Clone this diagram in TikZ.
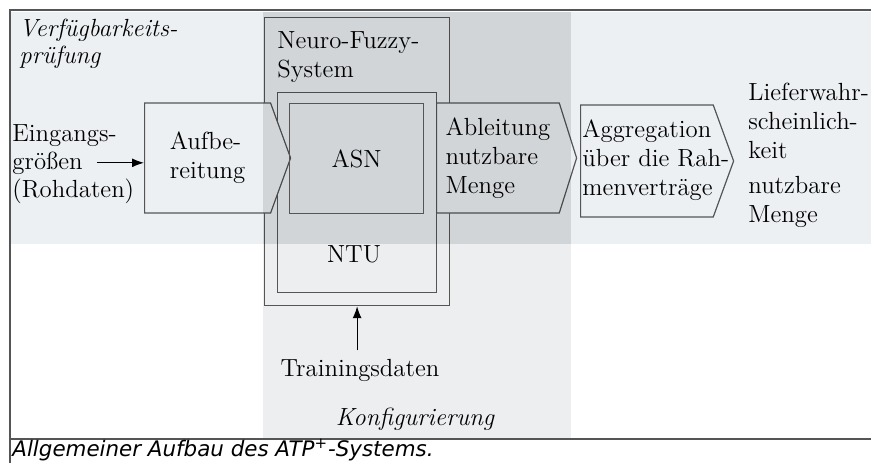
\documentclass[tikz,border=0pt]{standalone}
\usepackage{fontspec}
\newfontfamily\capfont{DejaVu Sans}
\usetikzlibrary{shapes.symbols,arrows.meta}

\definecolor{bandblue}{HTML}{EDF0F3}
\definecolor{konfgray}{HTML}{ECEEF0}
\definecolor{linegray}{HTML}{555555}

\begin{document}
\begin{tikzpicture}[x=0.5pt,y=-0.5pt,
  font=\fontsize{12.4}{14.5}\selectfont,
  box/.style={draw=linegray,line width=0.6pt,inner sep=0pt},
  pent/.style={signal,signal to=east,draw=linegray,line width=0.6pt,
    fill=bandblue,inner sep=0pt,align=left},
  txt/.style={anchor=base west,align=left,inner sep=0pt},
  pfeil/.style={-{Latex[length=6pt,width=4.5pt]},line width=0.6pt}]

\useasboundingbox (0,0) rectangle (871,463);

% Hintergrund
\fill[white] (0,0) rectangle (871,463);
\fill[bandblue] (10,12) rectangle (871,244);
\fill[konfgray] (263,244) rectangle (571,439);

\node[box,minimum width=92.5pt,minimum height=144pt,anchor=north west] (nfs) at (264,17) {};
\node[box,minimum width=79.5pt,minimum height=100pt,anchor=north west] (ntu) at (277,92) {};

\node[pent,signal pointer angle=140,minimum width=73pt,minimum height=55pt,anchor=west] (aufb) at (144,158) {Aufbe-\\reitung};

\node[pent,signal pointer angle=145,minimum width=70pt,minimum height=55pt,anchor=west] (abl) at (436,158) {Ableitung\\nutzbare\\Menge};

\node[pent,signal pointer angle=140,minimum width=76.5pt,minimum height=56pt,anchor=west] (aggr) at (580,161) {};
\node[txt] (aggrtext) at (582,195) {Aggregation\\über die Rah-\\menverträge};

% Konfigurierung ueber dem Band
\fill[black,fill opacity=0.11] (263,12) rectangle (571,244);

\node[box,minimum width=67pt,minimum height=55pt,anchor=north west] (asn) at (289,103) {ASN};

\node[txt,anchor=base] (ntulabel) at (354,262) {NTU};

\node[txt] (nfslabel) at (277,77) {Neuro-Fuzzy-\\System};

\node[txt,font=\fontsize{12.4}{13.5}\selectfont\itshape] (verf) at (19,63) {Verfügbarkeits-\\prüfung};

\node[txt] (ein1) at (12,141) {Eingangs-};
\node[txt] (ein2) at (12,169) {größen};
\node[txt] (ein3) at (12,197) {(Rohdaten)};

\node[txt] (lief) at (748,158) {Lieferwahr-\\scheinlich-\\keit};
\node[txt] (menge) at (748,222) {nutzbare\\Menge};

\node[txt,anchor=base] (train) at (360,376) {Trainingsdaten};

\node[txt,anchor=base,font=\fontsize{12.4}{14.5}\selectfont\itshape] (konf) at (415,425) {Konfigurierung};

\draw[pfeil,shorten <=7pt] (ein2.east) -- (ein2.east -| aufb.west);
\draw[pfeil,shorten <=4pt] (nfs.south |- train.north) -- (nfs.south);

% Rahmen und Bildunterschrift
\draw[linegray,line width=0.75pt] (871,10) -- (10,10) -- (10,463);
\draw[linegray,line width=0.75pt] (10,439) -- (871,439);

\node[txt,font=\capfont\itshape\fontsize{10.7}{12}\selectfont] (caption) at (12,456) {Allgemeiner Aufbau des ATP\textsuperscript{+}-Systems.};

\end{tikzpicture}
\end{document}
